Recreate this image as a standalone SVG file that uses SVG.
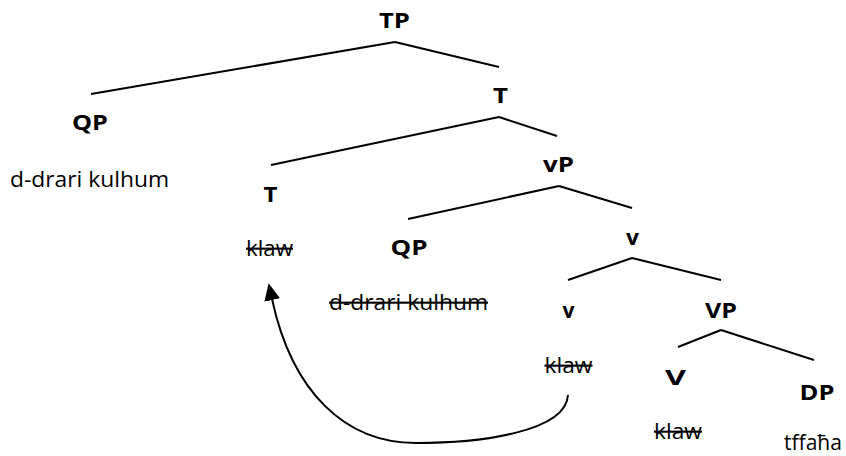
<svg xmlns="http://www.w3.org/2000/svg" width="846" height="456" viewBox="0 0 846 456">
<defs>
<style>
.lbl{font-family:"Open Sans","Liberation Sans",sans-serif;font-weight:bold;font-size:22px;fill:#000}
.wd{font-family:"Open Sans","Liberation Sans",sans-serif;font-size:21px;fill:#000}
.st{text-decoration:line-through;text-decoration-thickness:2px}
.edge{stroke:#000;stroke-width:2;fill:none}
</style>
<marker id="ah" viewBox="0 -8 17 16" markerWidth="17" markerHeight="16" refX="1" refY="0" orient="auto" markerUnits="userSpaceOnUse">
<path d="M0,-8 L17,0 L0,8 z" fill="#000"/>
</marker>
</defs>
<g id="connectors">
<line class="edge" x1="395" y1="42" x2="91" y2="94"/>
<line class="edge" x1="395" y1="42" x2="499" y2="67"/>
<line class="edge" x1="499" y1="117" x2="271" y2="165"/>
<line class="edge" x1="499" y1="117" x2="557" y2="136"/>
<line class="edge" x1="559" y1="186" x2="408" y2="219"/>
<line class="edge" x1="559" y1="186" x2="632" y2="208"/>
<line class="edge" x1="632" y1="258" x2="568" y2="280"/>
<line class="edge" x1="632" y1="258" x2="721" y2="280"/>
<line class="edge" x1="721" y1="330" x2="678" y2="347"/>
<line class="edge" x1="721" y1="330" x2="814" y2="360"/>
<path class="edge" marker-end="url(#ah)" d="M568,395 C566,432 480,443 416,443 C345,443 292,392 272,299"/>
</g>
<g id="n-TP"><text class="lbl" x="379" y="28" textLength="31" lengthAdjust="spacingAndGlyphs">TP</text></g>
<g id="n-QP1"><text class="lbl" x="72" y="130" textLength="36" lengthAdjust="spacingAndGlyphs">QP</text></g>
<g id="n-QP1-w"><text class="wd" x="10" y="187" textLength="159" lengthAdjust="spacingAndGlyphs">d-drari kulhum</text></g>
<g id="n-T1"><text class="lbl" x="493" y="103" textLength="15" lengthAdjust="spacingAndGlyphs">T</text></g>
<g id="n-T2"><text class="lbl" x="263.5" y="202" textLength="14" lengthAdjust="spacingAndGlyphs">T</text></g>
<g id="n-T2-w"><text class="wd st" x="246" y="256" textLength="47" lengthAdjust="spacingAndGlyphs">klaw</text></g>
<g id="n-vP"><text class="lbl" x="543" y="172" textLength="31" lengthAdjust="spacingAndGlyphs">vP</text></g>
<g id="n-QP2"><text class="lbl" x="390.5" y="255" textLength="37" lengthAdjust="spacingAndGlyphs">QP</text></g>
<g id="n-QP2-w"><text class="wd st" x="329" y="310" textLength="159" lengthAdjust="spacingAndGlyphs">d-drari kulhum</text></g>
<g id="n-v1"><text class="lbl" x="626" y="245" textLength="13" lengthAdjust="spacingAndGlyphs">v</text></g>
<g id="n-v2"><text class="lbl" x="562.5" y="318" textLength="12" lengthAdjust="spacingAndGlyphs">v</text></g>
<g id="n-v2-w"><text class="wd st" x="544.5" y="373" textLength="48" lengthAdjust="spacingAndGlyphs">klaw</text></g>
<g id="n-VP"><text class="lbl" x="705" y="318" textLength="32" lengthAdjust="spacingAndGlyphs">VP</text></g>
<g id="n-V"><text class="lbl" x="665" y="385" textLength="21" lengthAdjust="spacingAndGlyphs">V</text></g>
<g id="n-V-w"><text class="wd st" x="654" y="439" textLength="48" lengthAdjust="spacingAndGlyphs">klaw</text></g>
<g id="n-DP"><text class="lbl" x="799.5" y="400" textLength="35" lengthAdjust="spacingAndGlyphs">DP</text></g>
<g id="n-DP-w"><text class="wd" x="784" y="450" font-size="20" textLength="58" lengthAdjust="spacingAndGlyphs">tffaħa</text></g>
</svg>
